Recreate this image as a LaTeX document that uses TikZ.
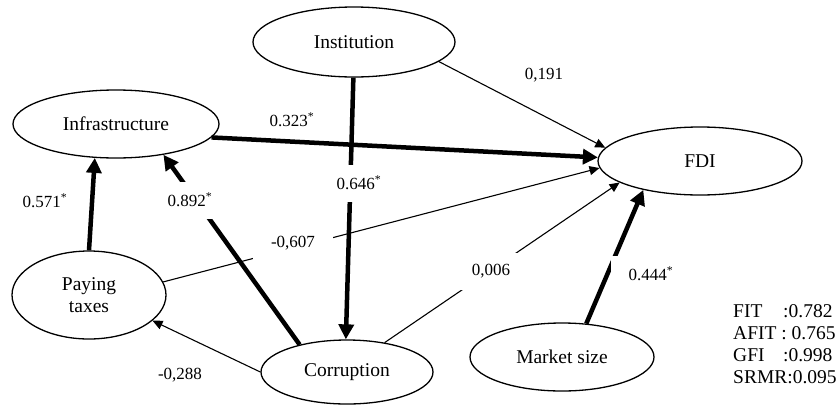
\documentclass[tikz,border=0pt]{standalone}
\usepackage{fontspec}
\setmainfont{Liberation Serif}
\usetikzlibrary{shapes.geometric,arrows.meta}
\begin{document}
\begin{tikzpicture}[x=1pt,y=-1pt,
  ell/.style={draw, ellipse, line width=1.3pt, inner sep=0pt, align=center,
    font=\fontsize{19.5}{22}\selectfont},
  weakarrow/.style={line width=1.1pt, -{Triangle[length=10pt,width=9pt]}},
  strongarrow/.style={line width=4.5pt, -{Triangle[length=15pt,width=15pt]}},
  lbl/.style={font=\fontsize{17}{20}\selectfont, inner sep=1pt},
  lblbg/.style={lbl, fill=white, minimum height=37pt, inner xsep=18pt},
  fitline/.style={font=\fontsize{19.5}{22}\selectfont, inner sep=0pt, anchor=base west}
]
\useasboundingbox (0,0) rectangle (838,405);

% constructs
\node[ell, minimum width=202pt, minimum height=70pt] (inst) at (354,42) {Institution};
\node[ell, minimum width=206pt, minimum height=68pt] (infra) at (116,124) {Infrastructure};
\node[ell, minimum width=204pt, minimum height=68pt] (fdi) at (700,161) {FDI};
\node[ell, minimum width=154pt, minimum height=88pt] (pay) at (89,295) {Paying\\taxes};
\node[ell, minimum width=172pt, minimum height=64pt] (corr) at (347,372) {Corruption};
\node[ell, minimum width=184pt, minimum height=68pt] (ms) at (562,357) {Market size};

% paths
\draw[weakarrow] (inst.-13) -- (fdi.172);
\draw[strongarrow] (infra.-8) -- (fdi.178);
\draw[strongarrow] (inst.-91) -- (corr.92);
\draw[strongarrow] (pay.90) -- (infra.-122);
\draw[strongarrow] (corr.150) -- (infra.-33);
\draw[weakarrow] (pay.10) -- (fdi.-176);
\draw[weakarrow] (corr.180) -- (pay.-22);
\draw[weakarrow] (corr.38) -- (fdi.-165);
\draw[strongarrow] (ms.54) -- (fdi.-153);

% coefficients
\node[lbl] (l191) at (544,75) {0,191};
\node[lbl] (l323) at (292,120) {0.323\textsuperscript{*}};
\node[lblbg] (l646) at (359,183) {0.646\textsuperscript{*}};
\node[lbl] (l571) at (45,201) {0.571\textsuperscript{*}};
\node[lblbg] (l892) at (190,200) {0.892\textsuperscript{*}};
\node[lblbg] (l607) at (293,243) {-0,607};
\node[lbl] (l288) at (180,375) {-0,288};
\node[lblbg] (l006) at (491,271) {0,006};
\node[lblbg] (l444) at (651,274) {0.444\textsuperscript{*}};

% fit indices
\node[fitline] (fit1) at (733,317) {\makebox[50pt][l]{FIT}:0.782};
\node[fitline] (fit2) at (733,339) {AFIT : 0.765};
\node[fitline] (fit3) at (733,361) {\makebox[50pt][l]{GFI}:0.998};
\node[fitline] (fit4) at (733,383) {SRMR:0.095};
\end{tikzpicture}
\end{document}
